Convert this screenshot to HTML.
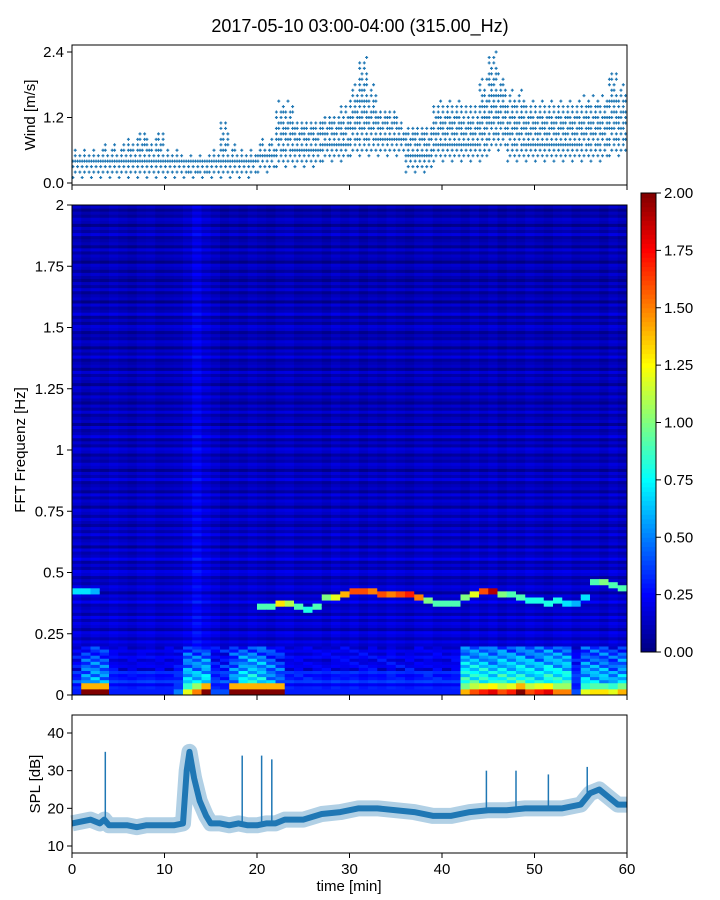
<!DOCTYPE html>
<html><head><meta charset="utf-8"><style>
body{margin:0;background:#fff;}
svg{display:block;font-family:"Liberation Sans","DejaVu Sans",sans-serif;}
</style></head><body>
<svg id="fig" width="720" height="900" viewBox="0 0 720 900">
<text x="360" y="32" text-anchor="middle" font-size="18">2017-05-10 03:00-04:00 (315.00_Hz)</text>
<g id="wind"></g>
<g id="spec"></g>
<g id="cbar"></g>
<g id="spl"></g>
</svg>
<script>
// ---- data ----
const minutes = Array.from({length:60},(_,i)=>i);
const windLo = [0.1,0.1,0.1,0.1,0.1,0.1,0.1,0.1,0.1,0.1,0.1,0.1,0.1,0.1,0.1,0.1,0.1,0.1,0.1,0.1,0.2,0.2,0.3,0.3,0.3,0.3,0.3,0.4,0.4,0.4,0.5,0.5,0.5,0.5,0.5,0.5,0.2,0.2,0.2,0.4,0.4,0.4,0.4,0.4,0.4,0.6,0.6,0.4,0.4,0.4,0.4,0.4,0.4,0.4,0.4,0.4,0.4,0.4,0.5,0.5];
const windHi = [0.6,0.6,0.6,0.7,0.7,0.7,0.8,0.9,0.8,0.9,0.6,0.6,0.5,0.5,0.5,0.6,1.1,0.7,0.6,0.6,0.8,0.8,1.5,1.5,1.1,1.1,1.1,1.3,1.3,1.4,1.8,2.3,1.8,1.3,1.3,1.2,1.1,1.1,1.1,1.5,1.5,1.5,1.4,1.4,1.9,2.4,2.0,1.7,1.7,1.5,1.5,1.5,1.5,1.5,1.5,1.6,1.6,1.6,2.1,1.8];
const freqBg = [0.28,0.18,0.15,0.14,0.13,0.13,0.12,0.12,0.11,0.11,0.11,0.1,0.1,0.1,0.1,0.1,0.09,0.09,0.09,0.09];
const lowEnergy = [0.3,2,2,2,0.3,0.3,0.3,0.3,0.3,0.3,0.3,0.5,1.2,1.5,2,0.4,0.4,2,2,2,2,2,2,0.3,0.3,0.3,0.3,0.3,0.3,0.3,0.3,0.3,0.3,0.3,0.3,0.3,0.3,0.3,0.3,0.3,0.3,0.3,1.4,1.6,1.7,1.8,1.6,1.7,2,1.6,1.7,1.8,1.5,1.5,0.4,1.2,1.3,1.3,1.2,1.4];
const midEnergy = [0.3,0.55,0.6,0.55,0.18,0.15,0.15,0.15,0.15,0.15,0.15,0.25,0.65,0.65,0.7,0.25,0.35,0.55,0.7,0.75,0.7,0.55,0.45,0.2,0.18,0.18,0.18,0.18,0.18,0.18,0.18,0.18,0.18,0.18,0.18,0.18,0.18,0.18,0.18,0.18,0.18,0.18,0.85,0.85,0.85,0.75,0.85,0.8,0.85,0.8,0.75,0.85,0.8,0.8,0.3,0.65,0.65,0.65,0.55,0.65];
const lineFreq = [0.42,0.42,0.42,0,0,0,0,0,0,0,0,0,0,0,0,0,0,0,0,0,0.36,0.36,0.37,0.37,0.36,0.35,0.36,0.4,0.4,0.41,0.42,0.43,0.42,0.41,0.41,0.41,0.41,0.4,0.39,0.37,0.37,0.38,0.4,0.41,0.42,0.42,0.41,0.41,0.4,0.39,0.39,0.38,0.39,0.38,0.38,0.4,0.46,0.46,0.45,0.44];
const lineVal = [0.7,0.7,0.6,0,0,0,0,0,0,0,0,0,0,0,0,0,0,0,0,0,0.9,0.9,1.3,1.1,0.9,0.8,0.9,1.0,1.2,1.4,1.6,1.6,1.5,1.6,1.5,1.6,1.7,1.5,1.0,0.9,0.9,0.9,1.0,1.2,1.6,1.9,1.0,0.9,0.9,0.8,0.8,0.8,0.8,0.7,0.6,0.7,0.9,1.0,0.9,0.9];
const colBoost = [0,0,0,0,0,0,0,0,0,0,0,0,0.06,0.08,0.06,0,0,0,0,0,0,0,0,0,0,0,0,0,0,0,0,0,0,0,0,0,0,0,0,0,0,0,0,0,0,0,0,0,0,0,0,0,0,0,0,0,0,0,0,0];
const rowStreak = [0.05,-0.03,0.02,-0.04,0.06,0,-0.02,0.04,-0.05,0.03,0.01,-0.03,0.05,-0.02,0.03,-0.04,0,0.04,-0.03,0.02,0.04,-0.05,0.01,0.03,-0.02,0.05,-0.04,0.02,0,-0.03,0.06,-0.01,0.03,-0.05,0.02,0.04,-0.02,0.01,-0.04,0.03];
const colStreak = [0.02,-0.02,0.01,-0.01,0.02,0,-0.02,0.01,0.02,-0.01,0,0.01,-0.02,0.02,-0.01];
const splTime = [0,1,2,3,3.5,4,5,6,7,8,9,10,11,12,12.4,12.7,13.2,13.8,14.5,15,16,17,18,19,20,21,22,23,25,27,29,31,33,35,37,39,41,43,45,47,49,51,53,55,56,57,58,59,60];
const splVal = [16,16.5,17,16,17,15.5,15.5,15.5,15,15.5,15.5,15.5,15.5,16,30,35,28,22,18,16,16,15.5,16,15.5,15.5,16,16,17,17,18.5,19,20,20,19.5,19,18,18,19,19.5,19.5,20,20,20,21,24,25,23,21,21];
const splSpikeT = [3.6,18.4,20.5,21.6,44.8,48,51.5,55.7];
const splSpikeV = [35,34,34,33,30,30,29,31];
const xTicks = [0,10,20,30,40,50,60];
const windTicks = [0.0,1.2,2.4];
const specTicks = [0,0.25,0.5,0.75,1,1.25,1.5,1.75,2];
const specTickLabels = ['0','0.25','0.5','0.75','1','1.25','1.5','1.75','2'];
const cbarTicks = [0,0.25,0.5,0.75,1,1.25,1.5,1.75,2];
const splTicks = [10,20,30,40];

// ---- helpers ----
const NS='http://www.w3.org/2000/svg';
function mk(tag,attrs,parent){const e=document.createElementNS(NS,tag);for(const k in attrs)e.setAttribute(k,attrs[k]);parent.appendChild(e);return e;}
const L=72,R=627;
const xS=t=>L+(R-L)*t/60;
function jet(v){let t=Math.max(0,Math.min(1,v/2));const c=x=>Math.round(255*Math.max(0,Math.min(1,1.5-Math.abs(x))));return `rgb(${c(4*t-3)},${c(4*t-2)},${c(4*t-1)})`;}
function frame(g,top,bot,name){const r=mk('rect',{x:L,y:top,width:R-L,height:bot-top,fill:'none',stroke:'#000','stroke-width':1},g);}
function xTickMarks(g,bot,labels){xTicks.forEach(t=>{const l=mk('line',{x1:xS(t),x2:xS(t),y1:bot,y2:bot+5,stroke:'#000'},g);
 if(labels){const tx=mk('text',{x:xS(t),y:bot+21,'text-anchor':'middle','font-size':15},g);tx.textContent=t;}});}
function yTicks(g,vals,labs,yS,name){vals.forEach((v,i)=>{const y=yS(v);const l=mk('line',{x1:L-5,x2:L,y1:y,y2:y,stroke:'#000'},g);
 const tx=mk('text',{x:L-8,y:y+5,'text-anchor':'end','font-size':15},g);tx.textContent=labs[i];});}

// ---- wind ----
(function(){const g=document.getElementById('wind');const T=45,B=185;const yS=v=>183-v*(131/2.4);
 minutes.forEach(m=>{const lo=windLo[m],hi=windHi[m];const mid=(lo+hi)/2,half=(hi-lo)/2+0.05;
  for(let k=0;k<4;k++){const t=m+k*0.25+0.1;let lev=0;for(let v=lo;v<=hi+0.001;v+=0.1,lev++){
   const edge=Math.abs(v-mid)/half;
   const h=(m*7+k*3+lev*5)%7;
   if(edge>0.75&&h>1)continue; if(edge>0.45&&h>3)continue; if(h>=5)continue;
   const x=xS(t),y=yS(v);
   const p=mk('path',{d:`M${x-1.5},${y}h3M${x},${y-1.5}v3`,stroke:'#1f77b4','stroke-width':1.2},g);}}});
 frame(g,T,B,'wind-axes');xTickMarks(g,B,false);yTicks(g,windTicks,['0.0','1.2','2.4'],yS,'wind-y');
 const yl=mk('text',{transform:'translate(35,115) rotate(-90)','text-anchor':'middle','font-size':15},g);yl.textContent='Wind [m/s]';})();

// ---- spectrogram ----
(function(){const g=document.getElementById('spec');const T=205,B=695;const yS=f=>B-(B-T)*f/2;const df=0.0125;
 minutes.forEach(m=>{for(let r=0;r<160;r++){const f=r*df+df/2;let v=freqBg[Math.floor(f/0.1)]+colBoost[m]+rowStreak[r%40]*1.5+colStreak[m%15];
  if(f<0.025)v=lowEnergy[m];else if(f<0.05)v=Math.max(v,lowEnergy[m]*0.7);else if(f<0.2)v=Math.max(v,midEnergy[m]*(1-(f-0.05)/0.15*0.5)+rowStreak[(r+m)%40]*3);
  if(lineFreq[m]&&Math.abs(f-lineFreq[m])<0.012)v=Math.max(v,lineVal[m]);
  const c=mk('rect',{x:xS(m),y:yS(f+df/2),width:xS(m+1)-xS(m)+0.5,height:(B-T)*df/2+0.5,fill:jet(v)},g);}});
 frame(g,T,B,'spectrogram-axes');xTickMarks(g,B,false);yTicks(g,specTicks,specTickLabels,yS,'freq-y');
 const yl=mk('text',{transform:'translate(25,450) rotate(-90)','text-anchor':'middle','font-size':15},g);yl.textContent='FFT Frequenz [Hz]';})();

// ---- colorbar ----
(function(){const g=document.getElementById('cbar');const T=193,B=652,X=641,W=15;const yS=v=>B-(B-T)*v/2;
 for(let i=0;i<100;i++){const v=i*0.02;const r=mk('rect',{x:X,y:yS(v+0.02),width:W,height:(B-T)/100+0.5,fill:jet(v+0.01)},g);}
 const f=mk('rect',{x:X,y:T,width:W,height:B-T,fill:'none',stroke:'#000'},g);
 cbarTicks.forEach(v=>{const y=yS(v);const l=mk('line',{x1:X+W,x2:X+W+5,y1:y,y2:y,stroke:'#000'},g);
  const t=mk('text',{x:X+W+8,y:y+5,'font-size':15},g);t.textContent=v.toFixed(2);});})();

// ---- SPL ----
(function(){const g=document.getElementById('spl');const T=715,B=853;const yS=v=>846-(v-10)*(113/30);
 const pts=splTime.map((t,i)=>xS(t)+','+yS(splVal[i])).join(' ');
 const band=mk('polyline',{points:pts,fill:'none',stroke:'#1f77b4','stroke-width':16,'stroke-opacity':0.35,'stroke-linejoin':'round'},g);
 const ln=mk('polyline',{points:pts,fill:'none',stroke:'#1f77b4','stroke-width':6,'stroke-linejoin':'round'},g);
 splSpikeT.forEach((t,i)=>{const base=splVal[splTime.findIndex(x=>x>=t)]||18;const s=mk('line',{x1:xS(t),x2:xS(t),y1:yS(base),y2:yS(splSpikeV[i]),stroke:'#1f77b4','stroke-width':1.5},g);});
 frame(g,T,B,'spl-axes');xTickMarks(g,B,true);yTicks(g,splTicks,splTicks.map(String),yS,'spl-y');
 const yl=mk('text',{transform:'translate(40,784) rotate(-90)','text-anchor':'middle','font-size':15},g);yl.textContent='SPL [dB]';
 const xl=mk('text',{x:349,y:891,'text-anchor':'middle','font-size':15},g);xl.textContent='time [min]';})();
</script>
</body></html>
